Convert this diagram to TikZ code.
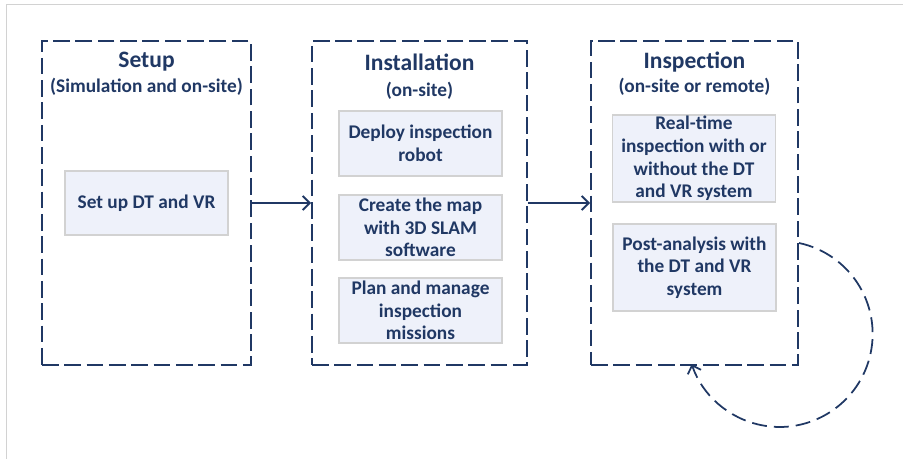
\documentclass[tikz,border=0pt]{standalone}
\usepackage{fontspec}
\setmainfont{Carlito}
\usetikzlibrary{arrows.meta}

\definecolor{navy}{RGB}{32,56,100}
\definecolor{taskfill}{RGB}{238,241,250}
\definecolor{taskline}{RGB}{210,210,210}

\tikzset{
    phase/.style={draw=navy, line width=1.1pt, dash pattern=on 9.5pt off 3.2pt,
        minimum width=#1, minimum height=6.48cm, inner sep=0pt},
    task/.style={draw=taskline, line width=0.6pt, fill=taskfill, text=navy,
        font=\bfseries\fontsize{11}{12.9}\selectfont, align=center,
        minimum width=3.26cm, minimum height=#1, inner sep=0pt},
    title/.style={text=navy, font=\bfseries\fontsize{13.4}{16}\selectfont},
    subtitle/.style={text=navy, font=\bfseries\fontsize{11}{13}\selectfont},
    flow/.style={draw=navy, line width=1.1pt, -{Straight Barb[length=4pt,width=8pt]}},
    again/.style={draw=navy, line width=1pt, dash pattern=on 8.5pt off 4pt,
        -{Straight Barb[length=4pt,width=8pt]}}
}

\begin{document}
\begin{tikzpicture} %Fases del sistema de inspeccion
        \useasboundingbox (0,0) rectangle (18.06,-9.18);
        \draw[color=taskline, line width=0.5pt] (0.12,-9.18) -- (0.12,-0.08) -- (18.06,-0.08);

        \node[phase=4.18cm] (setup) at (2.93,-4.06) {};
        \node[phase=4.30cm] (install) at (8.39,-4.06) {};
        \node[phase=4.14cm] (inspect) at (13.89,-4.06) {};

        \node[title] (setuptitle) at (2.93,-1.24) {Setup};
        \node[subtitle] (setupsub) at (2.93,-1.74) {(Simulation and on-site)};
        \node[title] (installtitle) at (8.39,-1.24) {Installation};
        \node[subtitle] (installsub) at (8.39,-1.82) {(on-site)};
        \node[title] (inspecttitle) at (13.89,-1.24) {Inspection};
        \node[subtitle] (inspectsub) at (13.89,-1.74) {(on-site or remote)};

        \node[task=1.28cm] (dtvr) at (2.93,-4.06) {Set up DT and VR};
        \node[task=1.30cm] (deploy) at (8.41,-2.87) {Deploy inspection\\robot};
        \node[task=1.30cm] (slam) at (8.41,-4.55) {Create the map\\with 3D SLAM\\software};
        \node[task=1.30cm] (missions) at (8.41,-6.21) {Plan and manage\\inspection\\missions};
        \node[task=1.74cm] (realtime) at (13.88,-3.17) {Real-time\\inspection with or\\without the DT\\and VR system};
        \node[task=1.74cm] (postan) at (13.89,-5.35) {Post-analysis with\\the DT and VR\\system};

        \draw[flow] (setup.east) -- (install.west);
        \draw[flow] (install.east) -- (inspect.west);

        \coordinate (loopstart) at ([yshift=-0.80cm]inspect.east);
        \draw[again] (loopstart) arc[start angle=78, end angle=-161, radius=1.86cm];
    \end{tikzpicture}
\end{document}
